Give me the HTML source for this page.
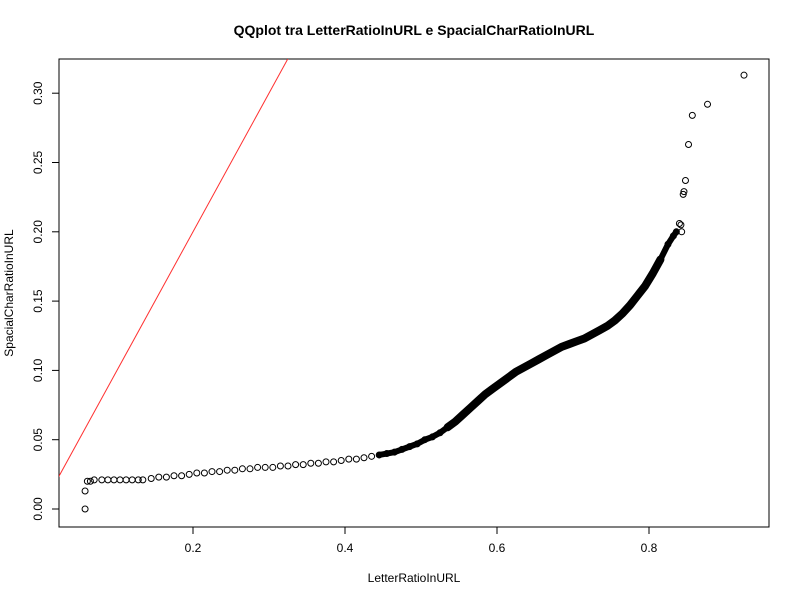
<!DOCTYPE html>
<html><head><meta charset="utf-8"><style>
body{margin:0;background:#fff;font-family:"Liberation Sans",Arial,sans-serif}
svg text{font-family:"Liberation Sans",Arial,sans-serif}
</style></head><body>
<svg id="chart" width="800" height="600" xmlns="http://www.w3.org/2000/svg">
<rect width="800" height="600" fill="#fff"/>
<text x="414" y="35" font-size="14" font-weight="bold" text-anchor="middle">QQplot tra LetterRatioInURL e SpacialCharRatioInURL</text>
<rect x="59" y="59" width="710" height="468" fill="none" stroke="#000" stroke-width="1"/>
<text x="414" y="582" font-size="12" text-anchor="middle">LetterRatioInURL</text>
<text transform="translate(13,293) rotate(-90)" font-size="12" text-anchor="middle">SpacialCharRatioInURL</text>
<g id="axes"></g>
<g id="marks"></g>
</svg>
<script>
const xTicks=[0.2,0.4,0.6,0.8];
const xTickLabels=["0.2","0.4","0.6","0.8"];
const yTicks=[0,0.05,0.1,0.15,0.2,0.25,0.3];
const yTickLabels=["0.00","0.05","0.10","0.15","0.20","0.25","0.30"];
const qx=[0.058,0.058,0.061,0.065,0.070,0.080,0.088,0.096,0.104,0.112,0.120,0.128,0.134,0.145,0.155,0.165,0.175,0.185,0.195,0.205,0.215,0.225,0.235,0.245,0.255,0.265,0.275,0.285,0.295,0.305,0.315,0.325,0.335,0.345,0.355,0.365,0.375,0.385,0.395,0.405,0.415,0.425,0.435,0.445,0.455,0.465,0.475,0.485,0.495,0.505,0.515,0.525,0.535,0.545,0.555,0.565,0.575,0.585,0.595,0.605,0.615,0.625,0.635,0.645,0.655,0.665,0.675,0.685,0.695,0.705,0.715,0.725,0.735,0.745,0.755,0.765,0.775,0.785,0.795,0.805,0.815,0.825,0.832,0.836,0.840,0.842,0.843,0.845,0.846,0.848,0.852,0.857,0.877,0.925];
const qy=[0,0.013,0.020,0.020,0.021,0.021,0.021,0.021,0.021,0.021,0.021,0.021,0.021,0.022,0.023,0.023,0.024,0.024,0.025,0.026,0.026,0.027,0.027,0.028,0.028,0.029,0.029,0.030,0.030,0.030,0.031,0.031,0.032,0.032,0.033,0.033,0.034,0.034,0.035,0.036,0.036,0.037,0.038,0.039,0.040,0.041,0.043,0.045,0.047,0.050,0.052,0.055,0.059,0.063,0.068,0.073,0.078,0.083,0.087,0.091,0.095,0.099,0.102,0.105,0.108,0.111,0.114,0.117,0.119,0.121,0.123,0.126,0.129,0.132,0.136,0.141,0.147,0.154,0.161,0.170,0.180,0.191,0.197,0.200,0.206,0.205,0.200,0.227,0.229,0.237,0.263,0.284,0.292,0.313];
const NS="http://www.w3.org/2000/svg";
const X=v=>41+v*760, Y=v=>509-v*1386;
const ax=document.getElementById('axes'), mk=document.getElementById('marks');
function el(t,a,p){const e=document.createElementNS(NS,t);for(const k in a)e.setAttribute(k,a[k]);p.appendChild(e);return e;}
xTicks.forEach((t,i)=>{
 const l=el('line',{x1:X(t),x2:X(t),y1:527,y2:534,stroke:'#000'},ax);
 
 
 const tx=el('text',{x:X(t),y:552,'font-size':12,'text-anchor':'middle'},ax);tx.textContent=xTickLabels[i];
 
 
});
yTicks.forEach((t,i)=>{
 const l=el('line',{x1:52,x2:59,y1:Y(t),y2:Y(t),stroke:'#000'},ax);
 
 
 const tx=el('text',{transform:`translate(42,${Y(t)}) rotate(-90)`,'font-size':12,'text-anchor':'middle'},ax);tx.textContent=yTickLabels[i];
 
 
});
const clip=el('clipPath',{id:'pc'},mk);el('rect',{x:59,y:59,width:710,height:468},clip);
const ref=el('line',{x1:X(0),y1:Y(0),x2:X(0.4),y2:Y(0.4),stroke:'#ff3030','clip-path':'url(#pc)'},mk);


const band=[];qx.forEach((x,i)=>{if(x>=0.44&&x<=0.836)band.push(X(x)+','+Y(qy[i]));});
const pl=el('polyline',{points:band.join(' '),fill:'none',stroke:'#000','stroke-width':6,'stroke-linejoin':'round','stroke-linecap':'round'},mk);


const band2=[];qx.forEach((x,i)=>{if(x>=0.53&&x<=0.82)band2.push(X(x)+','+Y(qy[i]));});
const pl2=el('polyline',{points:band2.join(' '),fill:'none',stroke:'#000','stroke-width':8,'stroke-linejoin':'round','stroke-linecap':'round'},mk);


qx.forEach((x,i)=>{
 const c=el('circle',{cx:X(x),cy:Y(qy[i]),r:3,fill:'none',stroke:'#000','stroke-width':1},mk);
 
 
});
</script>
</body></html>
